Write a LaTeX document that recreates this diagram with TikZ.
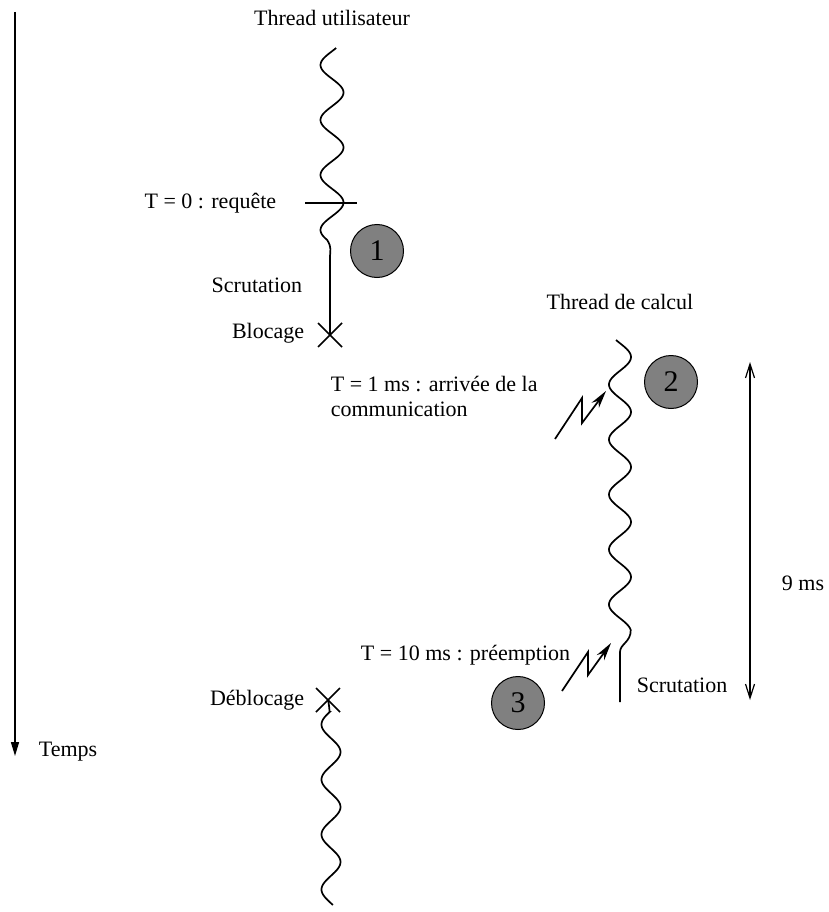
\documentclass[tikz,border=0pt]{standalone}
\usepackage{fontspec}
\setmainfont{Liberation Serif}
\usetikzlibrary{arrows.meta,calc}
\begin{document}
\begin{tikzpicture}[x=1pt,y=-1pt,line width=1.7pt,
  lbl/.style={font=\fontsize{22}{25}\selectfont,inner sep=0pt},
  num/.style={circle,draw,line width=1pt,fill=gray,minimum size=53pt,inner sep=0pt,font=\fontsize{30}{32}\selectfont},
  xmark/.style={line width=1.7pt},
  bolt/.style={line width=1.7pt,-{Stealth[length=18pt,width=9pt]}},
  span/.style={line width=1.2pt,{Straight Barb[length=14pt,width=9pt]}-{Straight Barb[length=14pt,width=9pt]}},
  timeaxis/.style={line width=1.5pt,-{Triangle[length=14pt,width=8pt]}}]
\useasboundingbox (0,0) rectangle (829,912);

% time axis
\coordinate (t0) at (15,12);
\coordinate (t1) at (15,756);
\draw[timeaxis] (t0) -- (t1);
\node[lbl,anchor=west] (temps) at (38,752) {Temps};

% user thread
\node[lbl] (tu) at (332,18) {Thread utilisateur};
\coordinate (blk) at (330,335);
\draw plot[domain=48:240,samples=150,variable=\t] ({332-11.5*cos((\t-65)/55*360)},{\t})
  .. controls (332,248) and (330,250) .. (330,258) -- (blk);
\coordinate (tk0) at (305,203);
\coordinate (tk1) at (357,203);
\draw (tk0) -- (tk1);
\node[lbl,anchor=east] (req) at (277,203) {T = 0 : requête};
\node[num] (c1) at (377,251) {1};
\node[lbl,anchor=east] (scr1) at (303,285) {Scrutation};
\draw[xmark] ($(blk)+(-12,-12)$) -- ($(blk)+(12,12)$);
\draw[xmark] ($(blk)+(-12,12)$) -- ($(blk)+(12,-12)$);
\node[lbl,anchor=east] (bloc) at (305,333) {Blocage};

% compute thread
\node[lbl] (tc) at (620,302) {Thread de calcul};
\coordinate (cend) at (620,702);
\draw plot[domain=340:630,samples=200,variable=\t] ({620+11*cos((\t-357)/55*360)},{\t})
  .. controls (631,642) and (620,644) .. (620,652) -- (cend);
\node[num] (c2) at (671,382) {2};
\node[lbl,anchor=west,align=left] (arr) at (330,396) {T = 1 ms : arrivée de la\\communication};
\coordinate (a1) at (555,439);
\coordinate (a2) at (582,398);
\coordinate (a3) at (582,423);
\coordinate (a4) at (606,391);
\draw[bolt] (a1) -- (a2) -- (a3) -- (a4);
\node[lbl,anchor=east] (pre) at (571,655) {T = 10 ms : préemption};
\coordinate (b1) at (562,691);
\coordinate (b2) at (588,652);
\coordinate (b3) at (588,675);
\coordinate (b4) at (611,643);
\draw[bolt] (b1) -- (b2) -- (b3) -- (b4);
\node[num] (c3) at (518,703) {3};
\node[lbl,anchor=west] (scr2) at (636,685) {Scrutation};

% 9 ms span
\coordinate (s0) at (750,362);
\coordinate (s1) at (750,700);
\draw[span] (s0) -- (s1);
\node[lbl] (nine) at (803,583) {9 ms};

% unblock
\coordinate (dbl) at (328,700);
\draw[xmark] ($(dbl)+(-12,-12)$) -- ($(dbl)+(12,12)$);
\draw[xmark] ($(dbl)+(-12,12)$) -- ($(dbl)+(12,-12)$);
\node[lbl,anchor=east] (debl) at (305,700) {Déblocage};
\draw (dbl) .. controls (329,705) .. (329.6,712) -- plot[domain=712:905,samples=150,variable=\t] ({331+9.5*cos((\t-752)/55*360)},{\t});
\end{tikzpicture}
\end{document}
